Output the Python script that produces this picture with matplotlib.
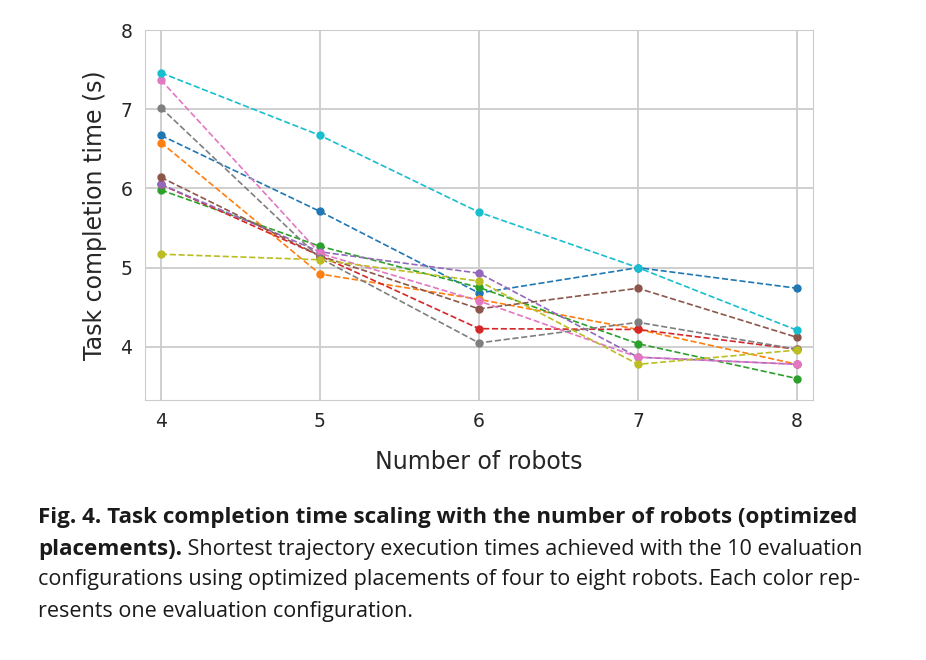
import matplotlib.pyplot as plt
import seaborn as sns

# number of robots on the x axis
robots = [4, 5, 6, 7, 8]

# task completion time (s) per evaluation configuration
config_1 = [6.67, 5.71, 4.68, 5.00, 4.74]
config_2 = [6.58, 4.92, 4.60, 4.22, 3.78]
config_3 = [5.98, 5.27, 4.75, 4.04, 3.60]
config_4 = [6.05, 5.15, 4.23, 4.22, 3.97]
config_5 = [6.05, 5.20, 4.93, 3.87, 3.78]
config_6 = [6.14, 5.15, 4.48, 4.74, 4.12]
config_7 = [7.37, 5.18, 4.58, 3.87, 3.78]
config_8 = [7.02, 5.12, 4.05, 4.31, 3.97]
config_9 = [5.17, 5.10, 4.83, 3.78, 3.96]
config_10 = [7.46, 6.67, 5.70, 5.00, 4.21]

configs = [config_1, config_2, config_3, config_4, config_5,
           config_6, config_7, config_8, config_9, config_10]

caption_bold_1 = "Fig. 4. Task completion time scaling with the number of robots (optimized"
caption_bold_2 = "placements)."
caption_lines = [
    " Shortest trajectory execution times achieved with the 10 evaluation",
    "configurations using optimized placements of four to eight robots. Each color rep-",
    "resents one evaluation configuration.",
]

sns.set_style("whitegrid")
plt.rcParams['font.family'] = ['DejaVu Sans']

fig = plt.figure(figsize=(9.26, 6.60), dpi=100)
ax = fig.add_axes([0.1566, 0.394, 0.7214, 0.5605])

colors = plt.get_cmap("tab10").colors
for i, vals in enumerate(configs):
    ax.plot(robots, vals, linestyle="--", marker="o", markersize=5,
            linewidth=1.2, color=colors[i])

ax.set_xlim(3.9, 8.1)
ax.set_ylim(3.33, 8.0)
ax.set_xticks(robots)
ax.set_yticks([4, 5, 6, 7, 8])
ax.tick_params(labelsize=13.5, length=0, pad=9)
ax.set_xlabel("Number of robots", fontsize=17, labelpad=13)
ax.set_ylabel("Task completion time (s)", fontsize=17, labelpad=10)
for s in ax.spines.values():
    s.set_color("#cccccc")
ax.grid(color="#cccccc", linewidth=1.3)

# caption below the chart, sized so the lines span like the reference
cap_font = "Open Sans"
W, H = 926, 660
x0 = 38 / W
line_y = [517, 549, 580, 611]
txt_color = "#1a1a1a"
renderer = fig.canvas.get_renderer()

t1 = fig.text(x0, 1 - line_y[0] / H, caption_bold_1, fontsize=13.5, fontweight="bold",
              family=cap_font, va="center", ha="left", color=txt_color)
bold_size = 13.5 * 819 / t1.get_window_extent(renderer).width
t1.set_fontsize(bold_size)

t4 = fig.text(x0, 1 - line_y[2] / H, caption_lines[1], fontsize=13.5,
              family=cap_font, va="center", ha="left", color=txt_color)
reg_size = 13.5 * 817 / t4.get_window_extent(renderer).width
t4.set_fontsize(reg_size)

t2 = fig.text(x0, 1 - line_y[1] / H, caption_bold_2, fontsize=bold_size, fontweight="bold",
              family=cap_font, va="center", ha="left", color=txt_color)
w2 = t2.get_window_extent(renderer).width
fig.text(x0 + w2 / W, 1 - line_y[1] / H, caption_lines[0], fontsize=reg_size,
         family=cap_font, va="center", ha="left", color=txt_color)
fig.text(x0, 1 - line_y[3] / H, caption_lines[2], fontsize=reg_size,
         family=cap_font, va="center", ha="left", color=txt_color)

fig.savefig("out.png", dpi=100)
